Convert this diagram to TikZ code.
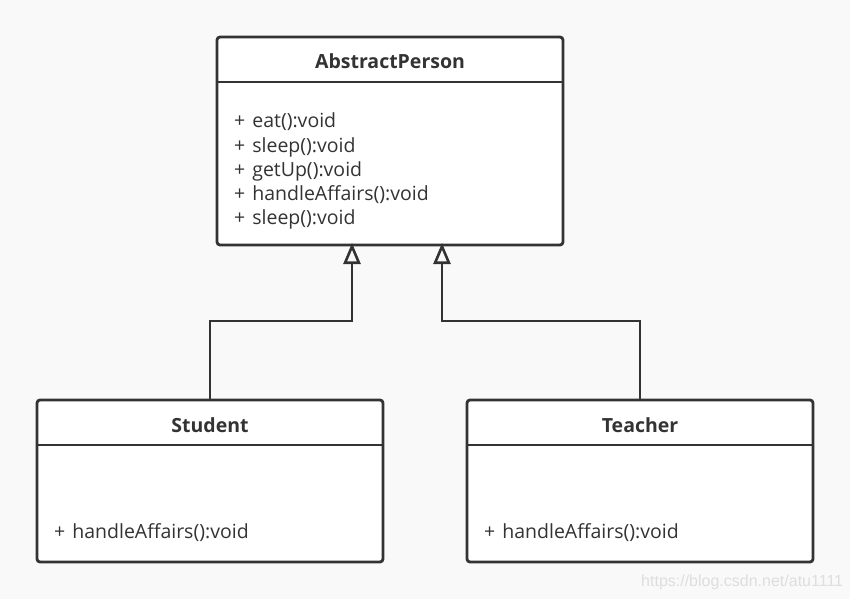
\documentclass[tikz,border=0pt]{standalone}
\usepackage{fontspec}
\setmainfont{Open Sans}
\newfontfamily\wmfont{Liberation Sans}
\usetikzlibrary{arrows.meta}
\definecolor{ink}{RGB}{51,51,51}
\definecolor{bg}{RGB}{249,249,249}
\definecolor{wm}{RGB}{222,222,222}
\newcommand{\pl}{+\hspace{7pt}}
\begin{document}
\begin{tikzpicture}[x=1pt,y=-1pt,
  cls/.style={draw=ink,line width=2.8pt,fill=white,rounded corners=3pt},
  sep/.style={draw=ink,line width=2.6pt},
  ttl/.style={font=\bfseries\fontsize{19.5}{22}\selectfont,text=ink,anchor=base,inner sep=0pt},
  mem/.style={font=\fontsize{19.5}{22}\selectfont,text=ink,anchor=base west,inner sep=0pt},
  gen/.style={draw=ink,line width=2.9pt,-{Triangle[open,width=17pt,length=21pt,line width=2.6pt]}}]
\fill[bg] (0,0) rectangle (850,599);
\useasboundingbox (0,0) rectangle (850,599);
% AbstractPerson
\draw[cls] (217,37) rectangle (563,245);
\draw[sep] (217,82) -- (563,82);
\node[ttl] (apt) at (390,69) {AbstractPerson};
\node[mem] (m1) at (234,128) {\pl eat():void};
\node[mem] (m2) at (234,152) {\pl sleep():void};
\node[mem] (m3) at (234,176) {\pl getUp():void};
\node[mem] (m4) at (234,200) {\pl handleAffairs():void};
\node[mem] (m5) at (234,224) {\pl sleep():void};
\coordinate (ap1) at (352,243);
\coordinate (ap2) at (442,243);
% Student
\draw[cls] (37,400) rectangle (383,562);
\draw[sep] (37,445) -- (383,445);
\node[ttl] (st) at (210,432) {Student};
\node[mem] (stm) at (54,538) {\pl handleAffairs():void};
\coordinate (s1) at (210,400);
% Teacher
\draw[cls] (467,400) rectangle (813,562);
\draw[sep] (467,445) -- (813,445);
\node[ttl] (te) at (640,432) {Teacher};
\node[mem] (tem) at (484,538) {\pl handleAffairs():void};
\coordinate (t1) at (640,400);
% generalization
\draw[gen] (s1) |- (352,321) -- (ap1);
\draw[gen] (t1) |- (442,321) -- (ap2);
% watermark
\node[font=\wmfont\fontsize{16}{18}\selectfont,text=wm,anchor=base west,inner sep=0pt] (wmk) at (641,586) {https://blog.csdn.net/atu1111};
\end{tikzpicture}
\end{document}
